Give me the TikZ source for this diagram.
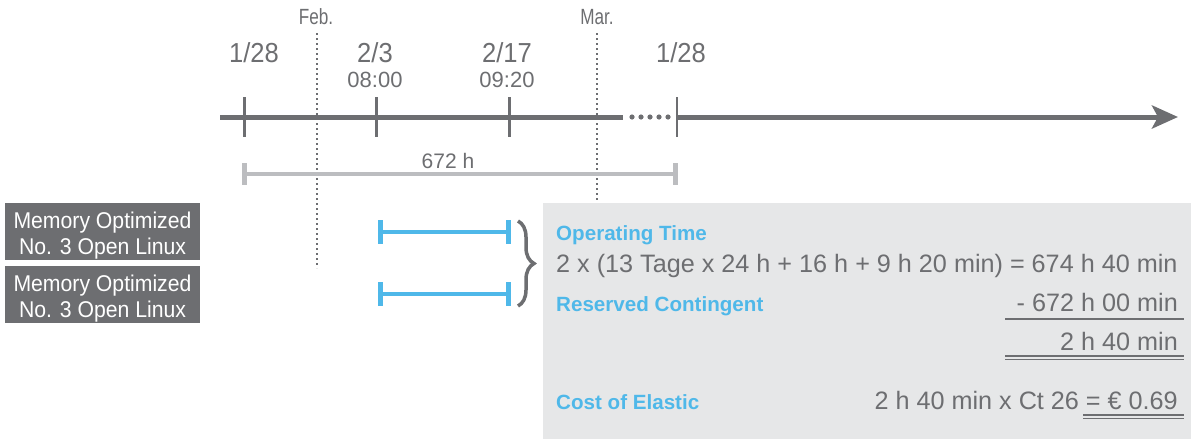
\documentclass[tikz,border=0pt]{standalone}
\usepackage{fontspec}
\setmainfont{Liberation Sans}
\newfontfamily\condA{Liberation Sans}[FakeStretch=0.78]
\newfontfamily\condB{Liberation Sans}[FakeStretch=0.93]
\usetikzlibrary{arrows.meta,decorations.pathreplacing}
\definecolor{dgray}{HTML}{6D6E71}
\definecolor{lgray}{HTML}{BCBDC0}
\definecolor{tblue}{HTML}{4FB8E9}
\definecolor{boxbg}{HTML}{E6E7E8}
\definecolor{txtgray}{HTML}{6D6E71}
\newcommand\fsz[1]{\fontsize{#1}{#1}\selectfont}
\begin{document}
\begin{tikzpicture}[x=1pt,y=-1pt,
  lbl/.style={inner sep=0pt,outer sep=0pt,text=txtgray},
  month/.style={lbl,anchor=base,font=\condA\fsz{22}},
  datelbl/.style={lbl,anchor=base,font=\condB\fsz{27.5}},
  timelbl/.style={lbl,anchor=base,font=\fsz{22}},
  tick/.style={dgray,line width=3pt},
  monthline/.style={dgray,line width=1.8pt,dash pattern=on 1.8pt off 3.2pt},
  bluebar/.style={tblue,line width=4pt},
  bluecap/.style={tblue,line width=5pt},
  vmbox/.style={fill=dgray,inner sep=0pt,minimum width=195pt,minimum height=57pt},
  vmtext/.style={inner sep=0pt,anchor=base,text=white,font=\condB\fsz{22.8}},
  head/.style={inner sep=0pt,text=tblue,font=\fsz{20.6}\bfseries},
  calc/.style={inner sep=0pt,text=txtgray,font=\fsz{25.2}},
  rule/.style={txtgray,line width=1.3pt}]
\useasboundingbox (0,0) rectangle (1191,439);
% month separators
\coordinate (febtop) at (317,33); \coordinate (febbot) at (317,268);
\coordinate (martop) at (597,33); \coordinate (marbot) at (597,203);
\draw[monthline] (febtop) -- (febbot);
\draw[monthline] (martop) -- (marbot);
\node[month] (feb) at (316,24) {Feb.};
\node[month] (mar) at (597,24) {Mar.};
% date labels
\node[datelbl] (d1) at (254,62) {1/28};
\node[datelbl] (d2) at (375,62) {2/3};
\node[timelbl] (t2) at (375,87) {08:00};
\node[datelbl] (d3) at (507,62) {2/17};
\node[timelbl] (t3) at (507,87) {09:20};
\node[datelbl] (d4) at (681,62) {1/28};
% timeline
\coordinate (tl0) at (220,117); \coordinate (tl1) at (623,117);
\coordinate (tl2) at (677,117); \coordinate (tl3) at (1178,117);
\draw[dgray,line width=5pt] (tl0) -- (tl1);
\foreach \x in {632,641,650,659,668} \fill[dgray] (\x,117) circle (2.6pt);
\draw[dgray,line width=5pt,-{Stealth[length=26pt,width=23pt,inset=6pt]}] (tl2) -- (tl3);
\foreach \x/\n in {244/a,376/b,509/c} {
  \coordinate (k\n1) at (\x,97); \coordinate (k\n2) at (\x,137);
  \draw[tick] (k\n1) -- (k\n2);}
\coordinate (kd1) at (677,97); \coordinate (kd2) at (677,137);
\draw[dgray,line width=2pt] (kd1) -- (kd2);
% 672 h span
\coordinate (s0) at (244,174); \coordinate (s1) at (675,174);
\draw[lgray,line width=4pt] (s0) -- (s1);
\draw[lgray,line width=5pt] (244,163) -- (244,185);
\draw[lgray,line width=5pt] (675,163) -- (675,185);
\node[lbl,anchor=base,font=\fsz{21}] (h672) at (448,168) {672 h};
% VM boxes
\node[vmbox] (vm1) at (102.5,231.5) {};
\node[vmtext] (vm1a) at (102.5,228) {Memory Optimized};
\node[vmtext] (vm1b) at (102.5,254) {No. 3 Open Linux};
\node[vmbox] (vm2) at (102.5,294.5) {};
\node[vmtext] (vm2a) at (102.5,291) {Memory Optimized};
\node[vmtext] (vm2b) at (102.5,317) {No. 3 Open Linux};
% usage bars
\coordinate (u1a) at (380,232); \coordinate (u1b) at (508,232);
\coordinate (u2a) at (380,294); \coordinate (u2b) at (508,294);
\draw[bluebar] (u1a) -- (u1b);
\draw[bluecap] (380,220) -- (380,244);
\draw[bluecap] (508,220) -- (508,244);
\draw[bluebar] (u2a) -- (u2b);
\draw[bluecap] (380,282) -- (380,306);
\draw[bluecap] (508,282) -- (508,306);
% brace
\coordinate (br0) at (518,221); \coordinate (br1) at (518,306);
\draw[dgray,line width=3.5pt,decorate,decoration={brace,amplitude=16pt}] (br0) -- (br1);
% calculation panel
\fill[boxbg] (543,203) rectangle (1191,439);
\node[head,anchor=base west] (op) at (556,240) {Operating Time};
\node[calc,anchor=base west] (eq1) at (556,272) {2 x (13 Tage x 24 h + 16 h + 9 h 20 min) = 674 h 40 min};
\node[head,anchor=base west] (rc) at (556,311) {Reserved Contingent};
\node[calc,anchor=base east] (sub) at (1178,311) {- 672 h 00 min};
\draw[rule] (1005,319) -- (1184,319);
\node[calc,anchor=base east] (res) at (1178,350) {2 h 40 min};
\draw[rule] (1005,356) -- (1184,356);
\draw[rule] (1005,359.5) -- (1184,359.5);
\node[head,anchor=base west] (coe) at (556,409) {Cost of Elastic};
\node[calc,anchor=base east] (cost) at (1178,409) {2 h 40 min x Ct 26 = € 0.69};
\draw[rule] (1083,415) -- (1184,415);
\draw[rule] (1083,418.5) -- (1184,418.5);
\end{tikzpicture}
\end{document}
